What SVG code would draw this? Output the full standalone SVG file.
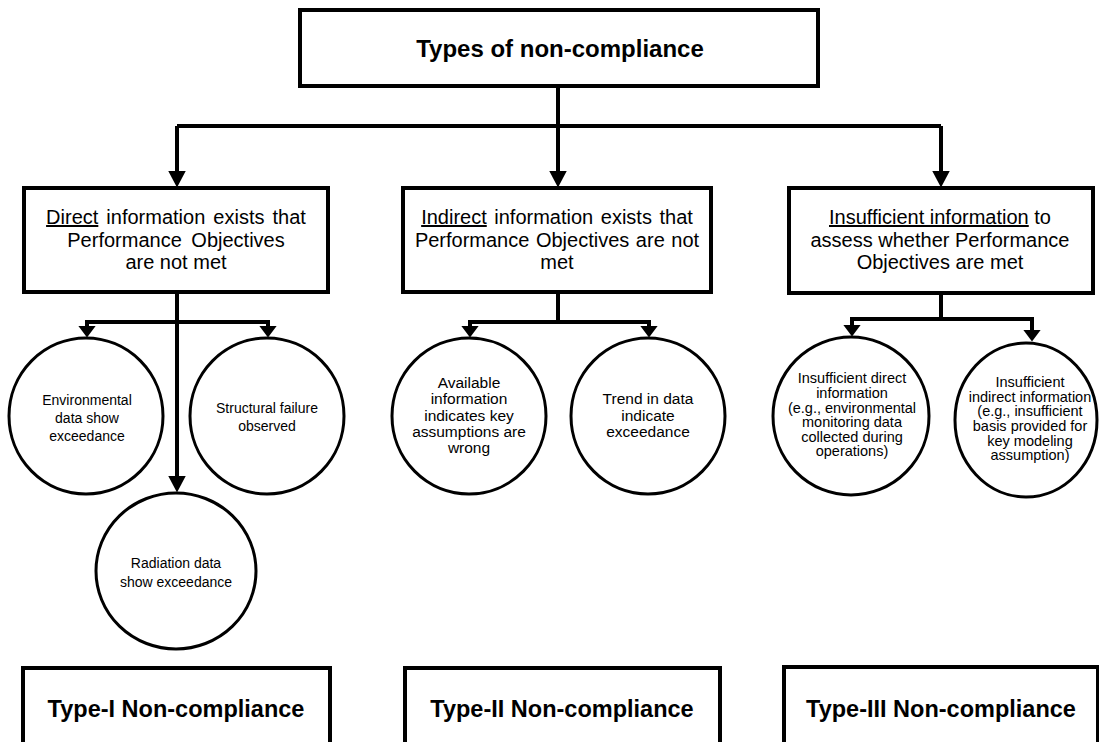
<svg xmlns="http://www.w3.org/2000/svg" width="1099" height="742" viewBox="0 0 1099 742">
<style>
.box{fill:#fff;stroke:#000;stroke-width:4}
.circ{fill:#fff;stroke:#000;stroke-width:3}
.con{fill:none;stroke:#000;stroke-width:4}
.t20{font-family:"Liberation Sans",Arial,sans-serif;font-size:20px;text-anchor:middle;fill:#000}
.tb{font-family:"Liberation Sans",Arial,sans-serif;font-size:23.5px;font-weight:bold;text-anchor:middle;fill:#000}
.t14{font-family:"Liberation Sans",Arial,sans-serif;font-size:14px;text-anchor:middle;fill:#000}
.t15{font-family:"Liberation Sans",Arial,sans-serif;font-size:15.5px;text-anchor:middle;fill:#000}
.t145{font-family:"Liberation Sans",Arial,sans-serif;font-size:14.5px;text-anchor:middle;fill:#000}
.u{text-decoration:underline}
</style>
<defs>
<marker id="big" markerUnits="userSpaceOnUse" viewBox="0 0 17 18" refX="0.5" refY="9" markerWidth="17" markerHeight="18" orient="auto">
<path d="M0,0 L17,9 L0,18 z" fill="#000"/>
</marker>
<marker id="small" markerUnits="userSpaceOnUse" viewBox="0 0 12 18" refX="0.5" refY="9" markerWidth="12" markerHeight="18" orient="auto">
<path d="M0,0 L12,9 L0,18 z" fill="#000"/>
</marker>
</defs>

<g id="connectors">
<path class="con" d="M558,86 V171" marker-end="url(#big)"/>
<path class="con" d="M177,126 H941"/>
<path class="con" d="M177,126 V171" marker-end="url(#big)"/>
<path class="con" d="M941,126 V171" marker-end="url(#big)"/>
<path class="con" d="M177,292 V476" marker-end="url(#big)"/>
<path class="con" d="M87,326 V322 H268 V326" marker-end="url(#small)"/>
<path class="con" d="M87,322 V326" marker-end="url(#small)"/>
<path class="con" d="M558,292 V322"/>
<path class="con" d="M470,326 V322 H649 V326" marker-end="url(#small)"/>
<path class="con" d="M470,322 V326" marker-end="url(#small)"/>
<path class="con" d="M941,293 V319"/>
<path class="con" d="M852,325 V319 H1032 V330" marker-end="url(#small)"/>
<path class="con" d="M852,319 V325" marker-end="url(#small)"/>
</g>

<g id="top">
<rect class="box" x="300" y="10" width="518" height="76"/>
<text class="tb" x="560" y="57" style="font-size:24px">Types of non-compliance</text>
</g>

<g id="direct">
<rect class="box" x="24" y="188" width="304" height="104"/>
<text class="t20" x="176" y="224" word-spacing="2.5"><tspan class="u">Direct</tspan> information exists that</text>
<text class="t20" x="176" y="247" word-spacing="4">Performance Objectives</text>
<text class="t20" x="176" y="269">are not met</text>
</g>

<g id="indirect">
<rect class="box" x="403" y="188" width="308" height="104"/>
<text class="t20" x="557" y="224" word-spacing="2"><tspan class="u">Indirect</tspan> information exists that</text>
<text class="t20" x="557" y="247" word-spacing="1">Performance Objectives are not</text>
<text class="t20" x="557" y="269">met</text>
</g>

<g id="insufficient">
<rect class="box" x="789" y="188" width="304" height="105"/>
<text class="t20" x="940" y="224"><tspan class="u">Insufficient information</tspan> to</text>
<text class="t20" x="940" y="247">assess whether Performance</text>
<text class="t20" x="940" y="269">Objectives are met</text>
</g>

<g id="env">
<ellipse class="circ" cx="86" cy="416" rx="77" ry="78"/>
<text class="t14" x="87" y="405">Environmental</text>
<text class="t14" x="87" y="423">data show</text>
<text class="t14" x="87" y="441">exceedance</text>
</g>

<g id="structural">
<ellipse class="circ" cx="267" cy="416" rx="77" ry="78"/>
<text class="t14" x="267" y="413">Structural failure</text>
<text class="t14" x="267" y="431">observed</text>
</g>

<g id="radiation">
<ellipse class="circ" cx="176" cy="571" rx="80" ry="78"/>
<text class="t14" x="176" y="568">Radiation data</text>
<text class="t14" x="176" y="587">show exceedance</text>
</g>

<g id="available">
<ellipse class="circ" cx="469" cy="416" rx="77" ry="78"/>
<text class="t15" x="469" y="388">Available</text>
<text class="t15" x="469" y="404">information</text>
<text class="t15" x="469" y="421">indicates key</text>
<text class="t15" x="469" y="437">assumptions are</text>
<text class="t15" x="469" y="453">wrong</text>
</g>

<g id="trend">
<ellipse class="circ" cx="648" cy="416" rx="77" ry="78"/>
<text class="t15" x="648" y="404">Trend in data</text>
<text class="t15" x="648" y="421">indicate</text>
<text class="t15" x="648" y="437">exceedance</text>
</g>

<g id="insdirect">
<ellipse class="circ" cx="851" cy="416" rx="78" ry="79"/>
<text class="t145" x="852" y="383">Insufficient direct</text>
<text class="t145" x="852" y="398">information</text>
<text class="t145" x="852" y="413">(e.g., environmental</text>
<text class="t145" x="852" y="427">monitoring data</text>
<text class="t145" x="852" y="442">collected during</text>
<text class="t145" x="852" y="456">operations)</text>
</g>

<g id="insindirect">
<ellipse class="circ" cx="1026" cy="420" rx="71" ry="77"/>
<text class="t145" x="1030" y="387">Insufficient</text>
<text class="t145" x="1030" y="402">indirect information</text>
<text class="t145" x="1030" y="416">(e.g., insufficient</text>
<text class="t145" x="1030" y="431">basis provided for</text>
<text class="t145" x="1030" y="446">key modeling</text>
<text class="t145" x="1030" y="460">assumption)</text>
</g>

<g id="type1">
<rect class="box" x="23" y="668" width="307" height="100"/>
<text class="tb" x="176" y="717">Type-I Non-compliance</text>
</g>

<g id="type2">
<rect class="box" x="405" y="668" width="315" height="100"/>
<text class="tb" x="562" y="717">Type-II Non-compliance</text>
</g>

<g id="type3">
<rect class="box" x="784" y="667" width="314" height="100"/>
<text class="tb" x="941" y="717">Type-III Non-compliance</text>
</g>
</svg>
